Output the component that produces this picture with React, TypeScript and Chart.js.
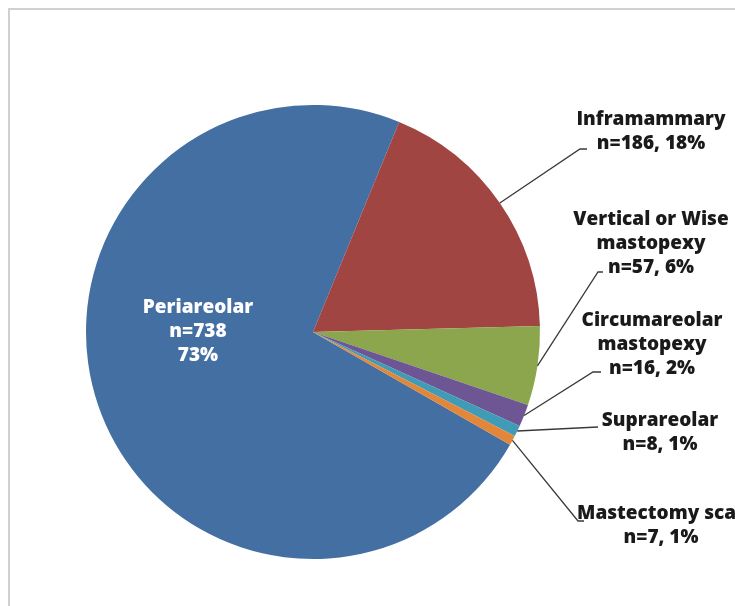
import React, { useEffect, useRef } from "react";
import { Chart, registerables } from "chart.js";

Chart.register(...registerables);

const categories = [
  "Periareolar",
  "Inframammary",
  "Vertical or Wise mastopexy",
  "Circumareolar mastopexy",
  "Suprareolar",
  "Mastectomy scar",
];
const counts = [738, 186, 57, 16, 8, 7];
const percents = ["73%", "18%", "6%", "2%", "1%", "1%"];
const sliceColors = ["#446FA2", "#A04541", "#8BA64C", "#6D5693", "#3F9BB6", "#E2873A"];

// text lines for each label (built from the data above)
const labelLines: string[][] = [
  [categories[0], `n=${counts[0]}`, percents[0]],
  [categories[1], `n=${counts[1]}, ${percents[1]}`],
  ["Vertical or Wise", "mastopexy", `n=${counts[2]}, ${percents[2]}`],
  ["Circumareolar", "mastopexy", `n=${counts[3]}, ${percents[3]}`],
  [categories[4], `n=${counts[4]}, ${percents[4]}`],
  [categories[5], `n=${counts[5]}, ${percents[5]}`],
];

// layout: label text centre x, first-line middle y, leader elbow / end points
const labelLayout = [
  { x: 198, y: 308, color: "#ffffff", leader: null },
  { x: 651, y: 120, color: "#1a1a1a", leader: [[580, 149], [587, 149]] },
  { x: 651, y: 220, color: "#1a1a1a", leader: [[598, 272], [603, 272]] },
  { x: 652, y: 321, color: "#1a1a1a", leader: [[593, 372], [601, 372]] },
  { x: 660, y: 421, color: "#1a1a1a", leader: [[598, 427], [598, 427]] },
  { x: 661, y: 514, color: "#1a1a1a", leader: [[578, 521], [584, 521]] },
];

const FONT = '800 19px "Open Sans", "DejaVu Sans", sans-serif';
const LINE_H = 24;

const labelPlugin = {
  id: "pieLabels",
  beforeDraw(chart: any) {
    const ctx = chart.ctx;
    ctx.save();
    ctx.fillStyle = "#d0d0d0";
    ctx.fillRect(8, 8, chart.width - 8, 2);
    ctx.fillRect(8, 8, 2, chart.height - 8);
    ctx.restore();
  },
  afterDatasetsDraw(chart: any) {
    const ctx = chart.ctx;
    const meta = chart.getDatasetMeta(0);
    ctx.save();
    meta.data.forEach((arc: any, i: number) => {
      const lay = labelLayout[i];
      if (lay.leader) {
        const mid = (arc.startAngle + arc.endAngle) / 2;
        const r = arc.outerRadius;
        const sx = arc.x + r * Math.cos(mid);
        const sy = arc.y + r * Math.sin(mid);
        ctx.beginPath();
        ctx.moveTo(sx, sy);
        lay.leader.forEach((p: number[]) => ctx.lineTo(p[0], p[1]));
        ctx.strokeStyle = "#3a3a3a";
        ctx.lineWidth = 1.3;
        ctx.stroke();
      }
      ctx.font = FONT;
      ctx.fillStyle = lay.color;
      ctx.textAlign = "center";
      ctx.textBaseline = "middle";
      labelLines[i].forEach((t, k) => {
        ctx.fillText(t, lay.x, lay.y + k * LINE_H);
      });
    });
    ctx.restore();
  },
};

export default function App() {
  const ref = useRef<HTMLCanvasElement | null>(null);
  useEffect(() => {
    if (!ref.current) return;
    const total = counts.reduce((a, b) => a + b, 0);
    const endOfFirst = 22.3;
    const chart = new Chart(ref.current, {
      type: "pie",
      data: {
        labels: categories,
        datasets: [
          {
            data: counts,
            backgroundColor: sliceColors,
            borderWidth: 0,
          },
        ],
      },
      options: {
        responsive: false,
        animation: false,
        events: [],
        rotation: endOfFirst - (counts[0] / total) * 360,
        layout: { padding: { left: 86, right: 195, top: 105, bottom: 47 } },
        plugins: {
          legend: { display: false },
          tooltip: { enabled: false },
        },
      },
      plugins: [labelPlugin],
    });
    return () => chart.destroy();
  }, []);
  return (
    <div style={{ position: "fixed", left: 0, top: 0, width: 735, height: 606, background: "#fff" }}>
      <canvas ref={ref} width={735} height={606} style={{ width: 735, height: 606 }} />
    </div>
  );
}
